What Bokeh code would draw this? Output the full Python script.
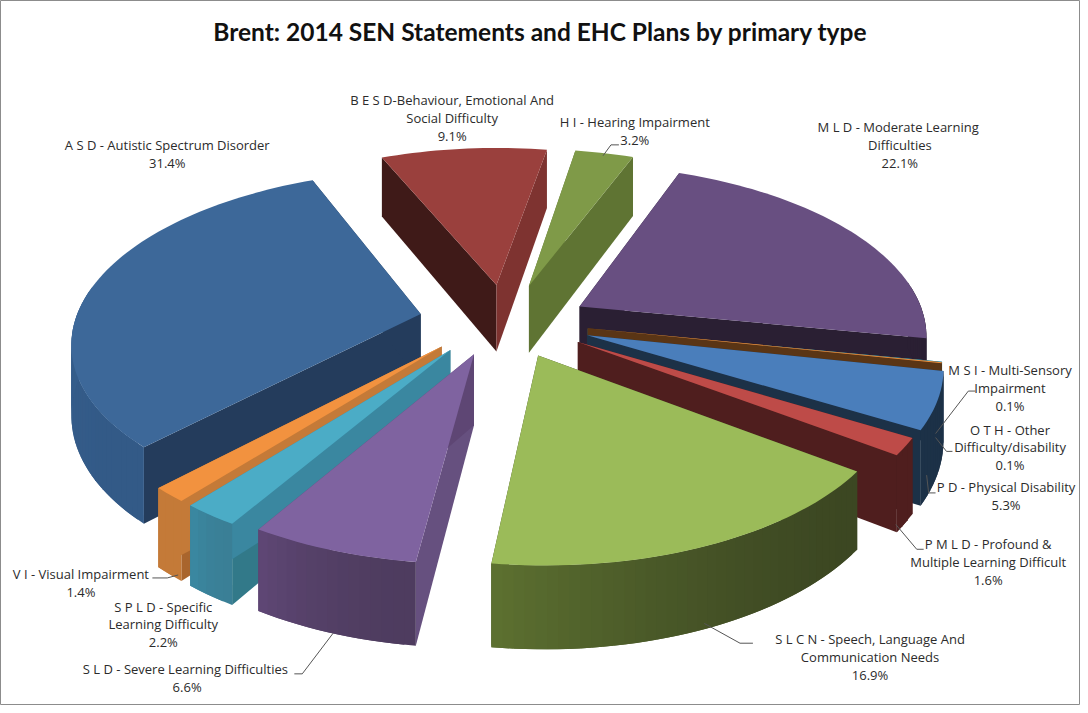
import math
from bokeh.plotting import figure
from bokeh.models import Range1d, ColumnDataSource
from bokeh.core.properties import value
from bokeh.embed import file_html
from bokeh.resources import INLINE

title = "Brent: 2014 SEN Statements and EHC Plans by primary type"
shares = [31.4, 9.1, 3.2, 22.1, 0.1, 0.1, 5.3, 1.6, 16.9, 6.6, 2.2, 1.4]
label_lines = [
    ["A S D - Autistic Spectrum Disorder", "31.4%"],
    ["B E S D-Behaviour, Emotional And", "Social Difficulty", "9.1%"],
    ["H I - Hearing Impairment", "3.2%"],
    ["M L D - Moderate  Learning", "Difficulties", "22.1%"],
    ["M S I - Multi-Sensory", "Impairment", "0.1%"],
    ["O T H - Other", "Difficulty/disability", "0.1%"],
    ["P D - Physical Disability", "5.3%"],
    ["P M L D - Profound &", "Multiple Learning Difficult", "1.6%"],
    ["S L C N - Speech, Language And", "Communication Needs", "16.9%"],
    ["S L D - Severe  Learning Difficulties", "6.6%"],
    ["S P L D - Specific", "Learning Difficulty", "2.2%"],
    ["V I - Visual Impairment", "1.4%"],
]
label_cx = [168, 455, 639, 906, 1017, 1017, 1013, 995, 876, 188, 164, 81]
label_y0 = [146, 101, 123, 128, 374, 434, 492, 550, 646, 676, 613, 580]
offset_u = [-.236, -.016, .081, .228, .247, .247, .244, .216, .102, -.078, -.145, -.170]
offset_v = [.076, .257, .250, .122, -.012, -.008, -.050, -.088, -.165, -.159, -.135, -.115]
top_col = ["#3D6899", "#9A403D", "#7F9A48", "#684F81", "#3FA0B8", "#F2923F",
           "#4A7EBB", "#BE4B48", "#9BBB59", "#7F63A0", "#4BACC6", "#F2923F"]
start_col = ["#243C5C", "#3F1A18", "#5F7433", "#2A1F33", "#2A6C7C", "#5A3515",
             "#1C3147", "#4F1E1E", "#3C4722", "#66507F", "#327989", "#A9652D"]
end_col = ["#243C5C", "#7E3330", "#5F7433", "#2A1F33", "#2A6C7C", "#5A3515",
           "#1C3147", "#4F1E1E", "#3C4722", "#5E4674", "#3A87A0", "#C47A38"]
outer_a = ["#335A87", "#7E3330", "#5F7433", "#2A1F33", "#2A6C7C", "#5A3515",
           "#1C3147", "#4F1E1E", "#3C4722", "#4E3C5F", "#3A7F96", "#C47A38"]
outer_b = ["#3F6A9B", "#7E3330", "#5F7433", "#2A1F33", "#2A6C7C", "#5A3515",
           "#1C3147", "#4F1E1E", "#5C7030", "#5E4674", "#3A87A0", "#C47A38"]
leaders = [
    [(607, 157), (615, 146), (623, 146)],
    [(942, 438), (975, 395), (982, 395)],
    [(942, 442), (953, 456), (959, 456)],
    [(933, 480), (935, 498), (942, 498)],
    [(902, 530), (923, 555), (930, 555)],
    [(709, 630), (745, 650), (758, 650)],
    [(335, 640), (304, 681), (296, 681)],
    [(179, 581), (168, 584), (153, 584)],
]

FIRST = -136.0
CX, CY, R, K, P, H = 505.0, 330.0, 350.0, 171.0, 0.15, 70.0


def proj(u, v, z=0.0):
    s = 1.0 / (1.0 + P * v)
    return CX + R * u * s, CY - K * v * s + z * H * s


def mix(a, b, t):
    ca = [int(a[i:i + 2], 16) for i in (1, 3, 5)]
    cb = [int(b[i:i + 2], 16) for i in (1, 3, 5)]
    return "#%02x%02x%02x" % tuple(round(x + (y - x) * t) for x, y in zip(ca, cb))


total = sum(shares)
spans = []
acc = 0.0
for sh in shares:
    spans.append((FIRST + acc / total * 360, FIRST + (acc + sh) / total * 360))
    acc += sh

order = sorted(range(len(shares)),
               key=lambda i: -math.cos(math.radians((spans[i][0] + spans[i][1]) / 2)))

xs, ys, cols = [], [], []


def poly(points, col):
    xs.append([q[0] for q in points])
    ys.append([q[1] for q in points])
    cols.append(col)


for i in order:
    a0, a1 = spans[i]
    ou, ov = offset_u[i], offset_v[i]
    n = max(2, int((a1 - a0) / 1.5) + 1)
    angs = [a0 + (a1 - a0) * k / (n - 1) for k in range(n)]
    rim = [(ou + math.sin(math.radians(t)), ov + math.cos(math.radians(t))) for t in angs]
    poly([proj(ou, ov), proj(*rim[0]), proj(*rim[0], 1), proj(ou, ov, 1)], start_col[i])
    poly([proj(ou, ov), proj(*rim[-1]), proj(*rim[-1], 1), proj(ou, ov, 1)], end_col[i])
    for k in range(n - 1):
        tm = (angs[k] + angs[k + 1]) / 2
        if math.cos(math.radians(tm)) < 0.15:
            e = min(k + 2, n - 1)
            poly([proj(*rim[k]), proj(*rim[e]), proj(*rim[e], 1), proj(*rim[k], 1)],
                 mix(outer_a[i], outer_b[i], (k / max(1, n - 2)) ** 1.8))
    poly([proj(ou, ov)] + [proj(*q) for q in rim], top_col[i])

p = figure(width=1080, height=705, output_backend="svg", toolbar_location=None,
           x_range=Range1d(0, 1088), y_range=Range1d(713, 0), min_border=0,
           x_axis_location=None, y_axis_location=None)
p.grid.visible = False
p.outline_line_color = "#8c8c8c"
p.background_fill_color = "white"

p.patches("xs", "ys", source=ColumnDataSource(dict(xs=xs, ys=ys, c=cols)),
          fill_color="c", line_color=None)

for pts in leaders:
    p.line([q[0] for q in pts], [q[1] for q in pts], line_color="#555555", line_width=1)

tx, ty, tt = [], [], []
for lines, cx, y0 in zip(label_lines, label_cx, label_y0):
    for j, line in enumerate(lines):
        tx.append(cx)
        ty.append(y0 + j * 18)
        tt.append(line)
p.text(tx, ty, text=tt, text_font=value("Open Sans"), text_font_size="13px",
       text_align="center", text_baseline="middle", text_color="#2b2b2b")
p.text([544], [31], text=[title], text_font=value("Lato"), text_font_style="bold",
       text_font_size="24.5px", text_align="center", text_baseline="middle", text_color="#111111")

open("out.html", "w").write(file_html(p, INLINE))
